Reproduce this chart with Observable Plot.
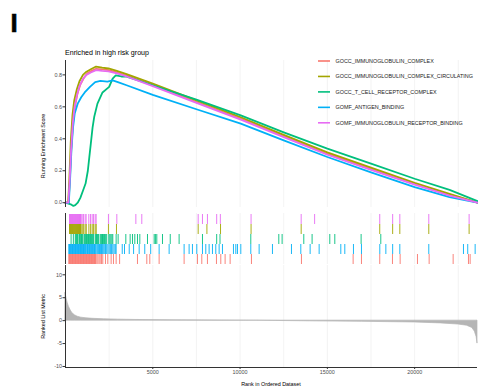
<!DOCTYPE html>
<html><head><meta charset="utf-8">
<script src="https://cdn.jsdelivr.net/npm/d3@7"></script>
<script src="https://cdn.jsdelivr.net/npm/@observablehq/plot@0.6"></script>
<style>
body{margin:0;background:#fff;font-family:"Liberation Sans",Arial,sans-serif;}
#root{position:relative;width:478px;height:389px;overflow:hidden;background:#fff}
#root svg{position:absolute;left:0}
</style></head><body><div id="root"></div><script>
// ---------- data ----------
const setNames = ["GOCC_IMMUNOGLOBULIN_COMPLEX","GOCC_IMMUNOGLOBULIN_COMPLEX_CIRCULATING","GOCC_T_CELL_RECEPTOR_COMPLEX","GOMF_ANTIGEN_BINDING","GOMF_IMMUNOGLOBULIN_RECEPTOR_BINDING"];
const setColors = ["#F8766D","#A3A500","#00BF7D","#00B0F6","#E76BF3"];
const rugOrder = ["GOMF_IMMUNOGLOBULIN_RECEPTOR_BINDING","GOCC_IMMUNOGLOBULIN_COMPLEX_CIRCULATING","GOCC_T_CELL_RECEPTOR_COMPLEX","GOMF_ANTIGEN_BINDING","GOCC_IMMUNOGLOBULIN_COMPLEX"];

const titleText = "Enriched in high risk group";
const panelLetter = "I";
const xTicks = [5000,10000,15000,20000];
const gridTicks = [2500,5000,7500,10000,12500,15000,17500,20000,22500];
const esTicks = [0,0.2,0.4,0.6,0.8];
const metricTicks = [-10,-5,0,5,10];

// running enrichment score
const redRank = [0,170,240,330,430,540,680,850,1050,1250,1500,1750,2100,2460,2940,3500,5000,7500,10040,12500,15000,17500,20000,22000,23600];
const redES   = [0,0,0.12,0.33,0.5,0.6,0.68,0.74,0.78,0.81,0.825,0.838,0.835,0.83,0.815,0.795,0.735,0.63,0.525,0.415,0.305,0.21,0.118,0.05,0];
const oliveRank = [0,150,220,300,400,500,650,800,1000,1200,1450,1750,2100,2460,2940,3500,5000,7500,10040,12500,15000,17500,20000,22000,23600];
const oliveES   = [0,0,0.15,0.38,0.55,0.64,0.71,0.76,0.8,0.82,0.835,0.852,0.845,0.84,0.825,0.805,0.745,0.64,0.535,0.425,0.315,0.22,0.125,0.055,0];
const greenRank = [0,300,450,560,700,850,1000,1150,1280,1360,1450,1550,1650,1830,2120,2500,2700,2880,3200,3450,5000,7500,10040,12500,15000,17500,20000,22000,23600];
const greenES   = [0,-0.01,-0.02,-0.015,0.0,0.03,0.075,0.12,0.2,0.28,0.37,0.47,0.54,0.62,0.69,0.725,0.777,0.797,0.79,0.79,0.735,0.645,0.547,0.44,0.338,0.245,0.15,0.08,0.01];
const blueRank = [0,190,260,340,430,530,700,900,1100,1400,1700,2000,2400,2700,3000,3500,5000,7500,10040,12500,15000,17500,20000,22000,23600];
const blueES   = [0,0,0.14,0.33,0.47,0.56,0.62,0.66,0.69,0.725,0.755,0.762,0.758,0.765,0.755,0.735,0.675,0.585,0.495,0.39,0.286,0.19,0.098,0.035,0];
const pinkRank = [0,160,230,320,420,520,650,800,1000,1200,1450,1755,2100,2460,2940,3500,5000,7500,10040,12500,15000,17500,20000,22000,23600];
const pinkES   = [0,0,0.12,0.33,0.5,0.6,0.67,0.73,0.775,0.8,0.815,0.83,0.825,0.822,0.81,0.79,0.73,0.625,0.52,0.41,0.30,0.205,0.113,0.045,0];

// gene hit positions
const redHits = [190,225,260,295,330,365,400,435,470,505,540,575,610,645,680,715,750,785,820,855,890,925,960,995,1030,1065,1100,1135,1170,1205,1240,1275,1310,1345,1380,1415,1450,1485,1520,1555,1590,1625,1660,1695,1730,1755,1850,1920,1985,2060,2136,2290,2423,2614,2748,2900,3100,4123,4657,4829,5363,6795,7559,7807,8131,8647,8895,9143,9430,10652,13516,16476,16954,18000,18730,19169,20162,20830,22205,23083,23179];
const oliveHits = [230,260,290,320,350,380,410,440,470,500,530,560,590,620,650,680,710,740,770,800,830,860,895,960,1040,1125,1190,1340,1440,1530,1610,1700,1760,2460,2920,7600,8100,8880,10630,13500,18000,18740,19150,20810,23120];
const greenHits = [320,450,560,600,640,680,720,800,840,880,920,960,1000,1080,1120,1160,1200,1240,1280,1320,1360,1400,1440,1480,1520,1560,1600,1700,1740,1780,1820,1860,1900,1990,2040,2080,2120,2160,2200,2240,2300,2360,2480,2540,2600,2660,2710,2900,3015,3455,3703,3837,3970,4124,4257,4697,5080,5150,5230,5556,6000,6508,7846,8660,8850,10614,12218,12408,13650,14126,15139,15426,16933,18060];
const blueHits = [190,225,260,295,330,365,400,435,470,505,540,575,610,645,680,715,750,785,820,855,890,925,960,995,1030,1065,1100,1135,1170,1220,1260,1300,1340,1380,1420,1460,1500,1540,1580,1620,1660,1700,1740,1800,1850,1900,1950,2010,2060,2110,2160,2220,2290,2360,2430,2500,2570,2640,2710,2780,2850,2900,3250,3380,3650,3900,4220,4540,4880,5363,5936,6795,7081,7272,7521,7846,8036,8227,8418,8609,8800,8991,9621,9755,9851,10042,10614,11092,11855,12944,13479,14013,14529,15770,15999,16495,16954,18004,18350,18740,19150,20810,22797,23040,23465];
const pinkHits = [230,260,290,320,350,380,410,440,470,500,530,560,590,620,650,680,710,740,770,800,830,860,895,953,1029,1125,1182,1335,1430,1526,1602,1698,1755,2460,2940,4030,4370,7600,7845,8131,8660,8870,10630,13500,14270,18000,18740,19150,20810,23120];

// ranked list metric
const metricRank  = [0,60,120,200,300,400,550,700,900,1200,1600,2200,3000,4000,6000,9000,11000,14000,17000,20000,21500,22500,23000,23300,23450,23550,23600];
const metricValue = [6,4.8,3.9,3.0,2.2,1.6,1.15,0.85,0.65,0.5,0.4,0.3,0.22,0.15,0.08,0.02,-0.02,-0.15,-0.25,-0.4,-0.6,-0.85,-1.1,-1.6,-2.4,-3.6,-5];

// ---------- build ----------
const xDomain = [0, 23600];
const y1Domain = [-0.03, 0.89];
const y3Domain = [-10.22, 12.03];
const color = {domain: setNames, range: setColors};
const axisColor = "#333333";
const gridColor = "#ebebeb";
const baseStyle = {fontFamily: "'Liberation Sans', Arial, sans-serif", fontSize: "5.4px", color: "#4d4d4d", background: "transparent"};

const esSeries = [[redRank, redES],[oliveRank, oliveES],[greenRank, greenES],[blueRank, blueES],[pinkRank, pinkES]];
const esData = esSeries.flatMap(([r, s], i) => r.map((v, j) => ({set: setNames[i], rank: v, es: s[j]})));
const hitSeries = [redHits, oliveHits, greenHits, blueHits, pinkHits];
const hitData = hitSeries.flatMap((h, i) => h.map(v => ({set: setNames[i], rank: v})));
const metricData = metricRank.map((r, i) => ({rank: r, value: metricValue[i]}));

const root = document.getElementById("root");

const p1 = Plot.plot({
  width: 478, height: 155, marginLeft: 65, marginRight: 1, marginTop: 5, marginBottom: 3,
  style: baseStyle,
  x: {domain: xDomain, axis: null},
  y: {domain: y1Domain, axis: null},
  color,
  marks: [
    Plot.ruleX(gridTicks, {stroke: gridColor, strokeWidth: 0.6}),
    Plot.line(esData, {x: "rank", y: "es", z: "set", stroke: "set", strokeWidth: 1.8}),
    Plot.ruleX([xDomain[0]], {stroke: axisColor, strokeWidth: 1}),
    Plot.axisY({ticks: esTicks, tickFormat: d3.format(".1f"), tickSize: 2.5, tickPadding: 1, label: null, stroke: axisColor})
  ]
});
p1.style.top = "55px";
root.appendChild(p1);

const p2 = Plot.plot({
  width: 478, height: 58, marginLeft: 65, marginRight: 1, marginTop: 6, marginBottom: 1,
  style: baseStyle,
  x: {domain: xDomain, axis: null},
  y: {domain: rugOrder, axis: null, padding: 0},
  color,
  marks: [
    Plot.ruleX(gridTicks, {stroke: gridColor, strokeWidth: 0.6}),
    Plot.tickX(hitData, {x: "rank", y: "set", stroke: "set", strokeWidth: 0.9}),
    Plot.ruleX([xDomain[0]], {stroke: axisColor, strokeWidth: 1})
  ]
});
p2.style.top = "207px";
root.appendChild(p2);

const p3 = Plot.plot({
  width: 478, height: 124, marginLeft: 65, marginRight: 1, marginTop: 0, marginBottom: 22,
  style: baseStyle,
  x: {domain: xDomain, axis: null},
  y: {domain: y3Domain, axis: null},
  marks: [
    Plot.ruleX(gridTicks, {stroke: gridColor, strokeWidth: 0.6}),
    Plot.areaY(metricData, {x: "rank", y: "value", fill: "#b5b5b5", stroke: "#b5b5b5", strokeWidth: 0.7}),
    Plot.ruleX([xDomain[0]], {stroke: axisColor, strokeWidth: 1}),
    Plot.ruleY([y3Domain[0]], {stroke: axisColor, strokeWidth: 1}),
    Plot.axisY({ticks: metricTicks, tickFormat: d => String(d), tickSize: 2.5, tickPadding: 1, label: null, stroke: axisColor}),
    Plot.axisX({ticks: xTicks, tickFormat: d => String(d), tickSize: 2, tickPadding: 0.5, label: null, stroke: axisColor})
  ]
});
p3.style.top = "265px";
root.appendChild(p3);

// overlay: letter, title, axis titles, legend
const ov = d3.select(root).append("svg").attr("width", 478).attr("height", 389).style("top", "0px")
  .style("font-family", "'Liberation Sans', Arial, sans-serif");
ov.append("text").attr("x", 10.5).attr("y", 31.5).attr("font-size", 26).attr("font-weight", "bold")
  .attr("stroke", "#000").attr("stroke-width", 0.6).text(panelLetter);
ov.append("text").attr("x", 65).attr("y", 54.5).attr("font-size", 7.1).attr("fill", "#000").text(titleText);
ov.append("text").attr("transform", "translate(44,146) rotate(-90)").attr("text-anchor", "middle")
  .attr("dominant-baseline", "middle").attr("font-size", 5.4).attr("fill", "#000").text("Running Enrichment Score");
ov.append("text").attr("transform", "translate(44,316.5) rotate(-90)").attr("text-anchor", "middle")
  .attr("dominant-baseline", "middle").attr("font-size", 5.4).attr("fill", "#000").text("Ranked List Metric");
ov.append("text").attr("x", 271).attr("y", 385).attr("text-anchor", "middle")
  .attr("dominant-baseline", "middle").attr("font-size", 5.4).attr("fill", "#000").text("Rank in Ordered Dataset");
const lg = ov.append("g");
setNames.forEach((n, i) => {
  const y = 61 + i * 15.45;
  lg.append("line").attr("x1", 318).attr("x2", 330).attr("y1", y).attr("y2", y)
    .attr("stroke", setColors[i]).attr("stroke-width", 1.6);
  lg.append("text").attr("x", 335.5).attr("y", y).attr("dominant-baseline", "central")
    .attr("font-size", 5.4).attr("fill", "#1a1a1a").text(n);
});
</script></body></html>
